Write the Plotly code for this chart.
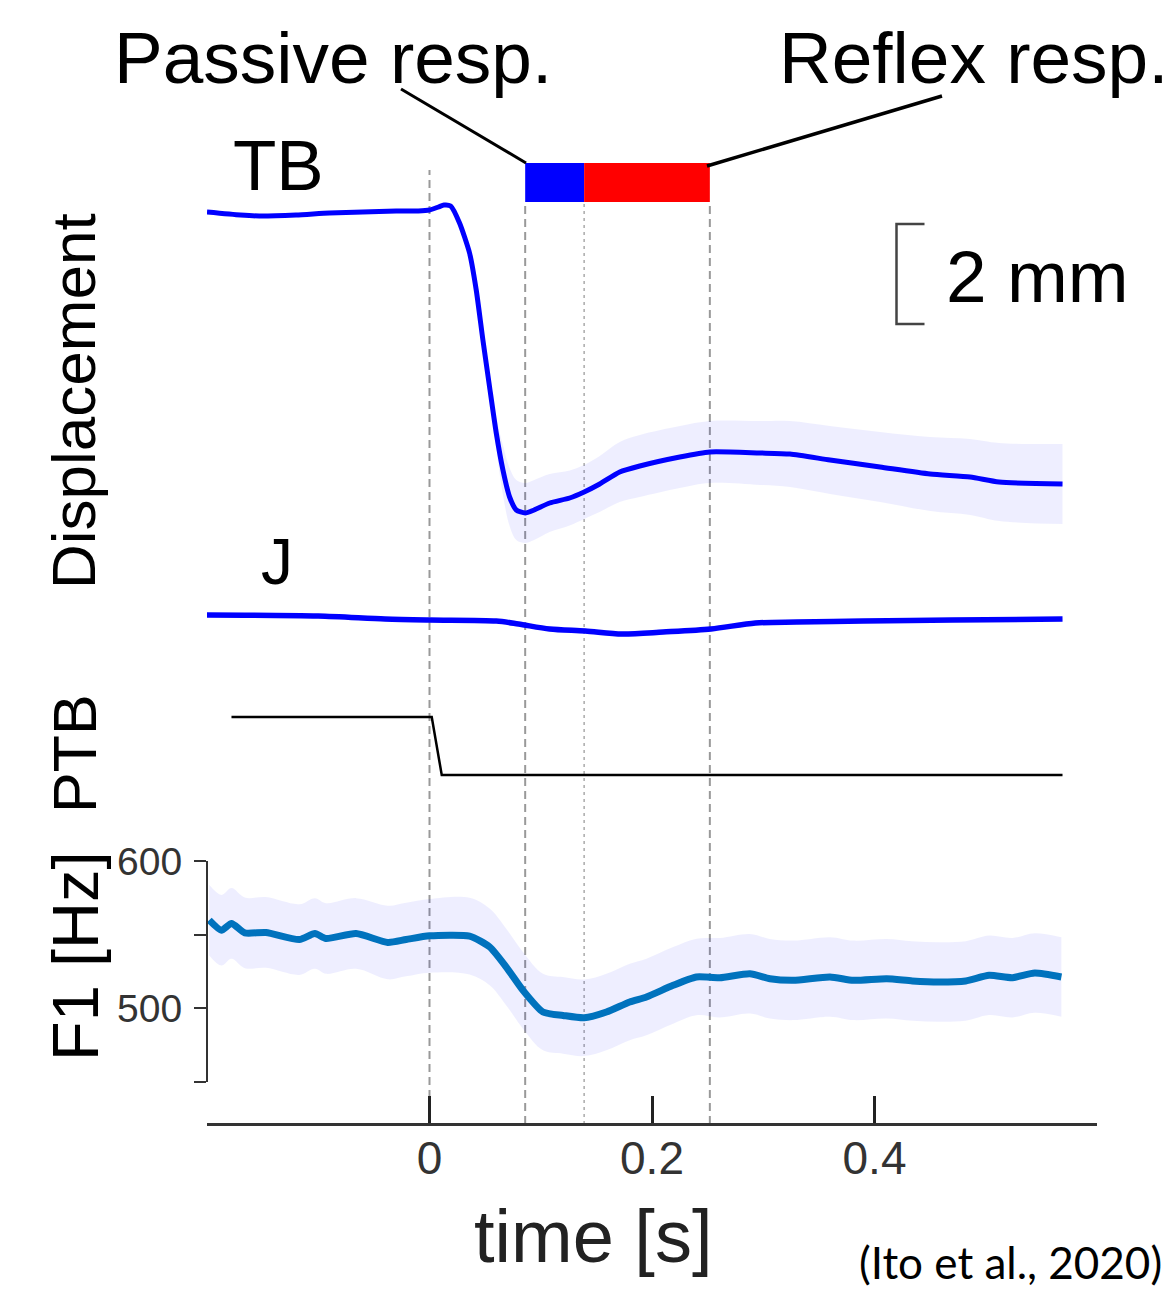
import plotly.graph_objects as go

W, H = 1170, 1294

# ---------------- data ----------------
# TB displacement [mm]
t_tb = [-0.2, -0.17, -0.153, -0.12, -0.09, -0.06, -0.03, -0.01, 0.0, 0.008, 0.013, 0.019,
        0.027, 0.036, 0.042, 0.048, 0.054, 0.060, 0.066, 0.072, 0.078, 0.086, 0.094, 0.108,
        0.126, 0.139, 0.153, 0.171, 0.189, 0.225, 0.252, 0.297, 0.324, 0.360, 0.405, 0.450,
        0.486, 0.512, 0.569]
tb_mm = [0, -0.06, -0.08, -0.06, -0.02, 0, 0.02, 0.02, 0.04, 0.1, 0.14, 0.12,
         -0.22, -0.82, -1.56, -2.56, -3.5, -4.42, -5.16, -5.7, -5.96, -6.02, -5.96, -5.82,
         -5.72, -5.6, -5.44, -5.2, -5.08, -4.9, -4.8, -4.82, -4.84, -4.96, -5.1, -5.24,
         -5.3, -5.4, -5.44]
tb_sd = [0.04, 0.04, 0.04, 0.04, 0.04, 0.04, 0.04, 0.04, 0.04, 0.04, 0.04, 0.04,
         0.04, 0.05, 0.05, 0.06, 0.1, 0.3, 0.5, 0.58, 0.6, 0.6, 0.6, 0.58,
         0.55, 0.54, 0.56, 0.6, 0.62, 0.62, 0.62, 0.64, 0.66, 0.68, 0.7, 0.74,
         0.76, 0.78, 0.8]

# J displacement [mm]
t_j = [-0.2, -0.1, -0.04, 0.0, 0.06, 0.08, 0.108, 0.14, 0.173, 0.21, 0.253, 0.293, 0.33, 0.39, 0.47, 0.569]
j_mm = [0, -0.02, -0.08, -0.1, -0.12, -0.18, -0.28, -0.32, -0.38, -0.34, -0.28, -0.16, -0.14, -0.12, -0.1, -0.08]
j_sd = [0.02, 0.02, 0.02, 0.02, 0.03, 0.04, 0.05, 0.06, 0.06, 0.06, 0.06, 0.05, 0.05, 0.05, 0.05, 0.05]

# PTB perturbation (normalised)
t_ptb = [-0.178, 0.002, 0.011, 0.569]
ptb = [1, 1, 0, 0]

# F1 [Hz]
t_f1 = [-0.198, -0.187, -0.178, -0.166, -0.147, -0.117, -0.103, -0.093, -0.066, -0.0375,
        -0.021, 0.0, 0.036, 0.054, 0.069, 0.084, 0.102, 0.120, 0.139, 0.159,
        0.180, 0.195, 0.219, 0.240, 0.261, 0.288, 0.306, 0.327, 0.360, 0.381,
        0.411, 0.434, 0.458, 0.482, 0.503, 0.524, 0.544, 0.568]
f1 = [559.9, 553.0, 557.6, 551.2, 551.5, 546.7, 550.8, 547.4, 550.8, 544.7,
      546.7, 549.2, 549.0, 541.7, 528.0, 512.2, 497.5, 495.2, 493.6, 497.5,
      504.3, 507.7, 515.6, 521.3, 520.8, 523.5, 520.1, 519.0, 521.3, 519.0,
      520.1, 518.6, 517.9, 518.6, 522.4, 520.8, 524.0, 521.3]
f1_sd = [24, 24, 24, 24, 24, 24, 24, 24, 24, 25,
         25, 25, 26, 26, 26, 26, 26, 26, 26, 26,
         26, 26, 26, 26, 27, 27, 27, 27, 27, 27,
         27, 27, 27, 27, 27, 27, 27, 27]

# event markers [s]
t_onset = 0.0
t_passive = 0.086
t_mid = 0.139
t_reflex = 0.252

x_ticks = [0, 0.2, 0.4]
x_ticktext = ["0", "0.2", "0.4"]
f1_ticks = [450, 500, 550, 600]
f1_ticktext = ["", "500", "", "600"]

# ---------------- helpers (page pixel -> paper fraction, body margin compensated) ----------------
OFF = 8

def px(x):
    return (x - OFF) / W

def py(y):
    return 1 - (y - OFF) / H

BLUE = "#0000ff"
BAND = "rgba(0,0,255,0.065)"
F1C = "rgb(0,114,189)"
FONT = "Liberation Sans, Arial, sans-serif"

fig = go.Figure()

def band(t, m, s, yaxis):
    up = [a + b for a, b in zip(m, s)]
    lo = [a - b for a, b in zip(m, s)]
    fig.add_trace(go.Scatter(x=t, y=up, yaxis=yaxis, mode="lines", line=dict(width=0, shape="spline"),
                             hoverinfo="skip", showlegend=False))
    fig.add_trace(go.Scatter(x=t, y=lo, yaxis=yaxis, mode="lines", line=dict(width=0, shape="spline"),
                             fill="tonexty", fillcolor=BAND, hoverinfo="skip", showlegend=False))

band(t_tb, tb_mm, tb_sd, "y")
fig.add_trace(go.Scatter(x=t_tb, y=tb_mm, yaxis="y", mode="lines",
                         line=dict(color=BLUE, width=5, shape="spline", smoothing=0.6), name="TB"))
band(t_j, j_mm, j_sd, "y2")
fig.add_trace(go.Scatter(x=t_j, y=j_mm, yaxis="y2", mode="lines",
                         line=dict(color=BLUE, width=5.5, shape="spline", smoothing=0.8), name="J"))
fig.add_trace(go.Scatter(x=t_ptb, y=ptb, yaxis="y3", mode="lines",
                         line=dict(color="black", width=2.5), name="PTB"))
band(t_f1, f1, f1_sd, "y4")
fig.add_trace(go.Scatter(x=t_f1, y=f1, yaxis="y4", mode="lines",
                         line=dict(color=F1C, width=7, shape="spline", smoothing=0.6), name="F1"))

# ---------------- axes ----------------
fig.update_layout(
    width=W, height=H,
    margin=dict(l=0, r=0, t=0, b=0, pad=0, autoexpand=False),
    paper_bgcolor="white", plot_bgcolor="white",
    showlegend=False,
    font=dict(family=FONT, color="black"),
    xaxis=dict(domain=[px(207), px(1097)], range=[-0.2, 0.6], anchor="free", position=py(1124),
               automargin=False,
               showline=True, linecolor="#333", linewidth=2.5, showgrid=False, zeroline=False,
               ticks="inside", ticklen=27, tickwidth=3, tickcolor="#222",
               tickvals=x_ticks, ticktext=x_ticktext, ticklabelstandoff=-7,
               tickfont=dict(size=46, color="#333")),
    yaxis=dict(domain=[py(560), py(150)], range=[(212 - 560) / 50, (212 - 150) / 50],
               visible=False, anchor="x", automargin=False),
    yaxis2=dict(domain=[py(660), py(580)], range=[(615 - 660) / 50, (615 - 580) / 50],
                visible=False, anchor="x", automargin=False),
    yaxis3=dict(domain=[py(800), py(690)], range=[-25 / 58, 1 + 27 / 58],
                visible=False, anchor="x", automargin=False),
    yaxis4=dict(domain=[py(1082), py(861)], range=[450, 600], anchor="free", position=px(207),
                automargin=False,
                showline=True, linecolor="#333", linewidth=2, showgrid=False, zeroline=False,
                ticks="outside", ticklen=12, tickwidth=2, tickcolor="#333",
                tickvals=f1_ticks, ticktext=f1_ticktext, ticklabelstandoff=4,
                tickfont=dict(size=39, color="#333")),
)

# ---------------- shapes ----------------
shapes = []
vl = [(t_onset, 170, "8px,5px", "#999", 2),
      (t_passive, 202, "8px,5px", "#999", 2),
      (t_mid, 202, "3px,4px", "#aaa", 1.5),
      (t_reflex, 202, "8px,5px", "#999", 2)]
for t, ytop, dash, col, w in vl:
    shapes.append(dict(type="line", xref="x", yref="paper", x0=t, x1=t, y0=py(1124), y1=py(ytop),
                       line=dict(color=col, width=w, dash=dash), layer="below"))
# passive / reflex window bars
shapes.append(dict(type="rect", xref="x", yref="paper", x0=t_passive, x1=t_mid, y0=py(202), y1=py(163),
                   fillcolor="#0000ff", line=dict(width=0)))
shapes.append(dict(type="rect", xref="x", yref="paper", x0=t_mid, x1=t_reflex, y0=py(202), y1=py(163),
                   fillcolor="#ff0000", line=dict(width=0)))
# leader lines
shapes.append(dict(type="line", xref="paper", yref="paper", x0=px(401), y0=py(89), x1=px(526), y1=py(163),
                   line=dict(color="black", width=3)))
shapes.append(dict(type="line", xref="paper", yref="paper", x0=px(942), y0=py(96), x1=px(707), y1=py(166),
                   line=dict(color="black", width=3.5)))
# 2 mm scale bar (in TB data units)
sx0 = (925 - 430) / 1112.5
sx1 = (897 - 430) / 1112.5
shapes.append(dict(type="path", xref="x", yref="y",
                   path=f"M {sx0} -0.24 L {sx1} -0.24 L {sx1} -2.24 L {sx0} -2.24",
                   line=dict(color="#444", width=2.5)))
fig.update_layout(shapes=shapes)

# ---------------- text ----------------
ann = []
def txt(s, x, y, size, angle=0, family=FONT, color="black"):
    ann.append(dict(text=s, x=px(x), y=py(y), xref="paper", yref="paper", showarrow=False,
                    xanchor="center", yanchor="middle", textangle=angle,
                    font=dict(size=size, family=family, color=color)))

txt("Passive resp.", 333, 58, 73)
txt("Reflex resp.", 974, 58, 73)
txt("TB", 278, 166, 71)
txt("J", 277, 562, 64)
txt("2 mm", 1037, 276, 73)
txt("Displacement", 73, 401, 62, angle=-90)
txt("PTB", 75, 754, 61, angle=-90)
txt("F1 [Hz]", 75, 957, 65, angle=-90)
txt("time [s]", 593, 1236, 74, color="#222")
txt("(Ito et al., 2020)", 1010, 1262, 44, family="Lato, Open Sans, sans-serif")
fig.update_layout(annotations=ann)

fig.write_html("out.html")
